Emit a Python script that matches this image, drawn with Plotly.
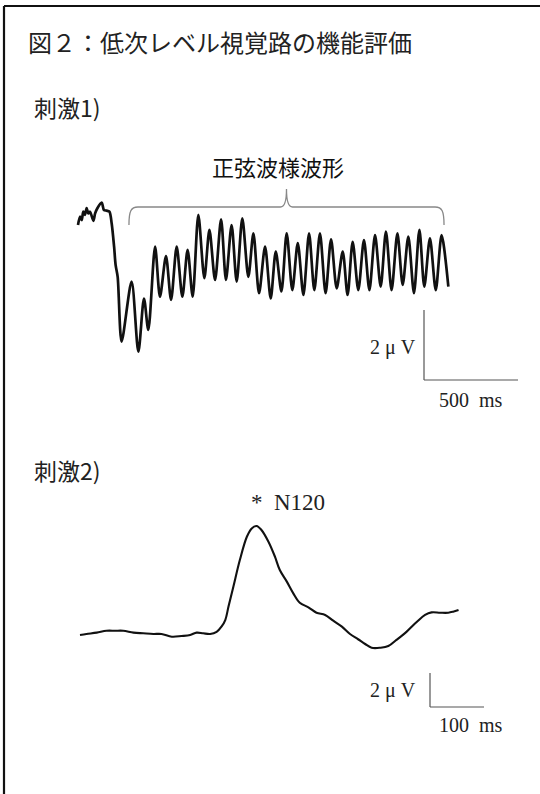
import plotly.graph_objects as go

W, H = 540, 794

# ---------------- data ----------------
# Stimulus 1: sinusoid-like response (time in ms, amplitude in µV)
s1_time = [0, 11, 20, 28, 37, 46, 55, 64, 82, 91, 103, 126, 138, 152, 167, 179, 192, 200, 211, 232,
           285, 321, 351, 374, 410, 436, 468, 495, 525, 555, 583, 610, 640, 672, 699, 729, 761, 787,
           817, 844, 874, 906, 933, 963, 995, 1025, 1052, 1082, 1110, 1140, 1169, 1199, 1229, 1257,
           1287, 1317, 1346, 1376, 1408, 1434, 1461, 1491, 1521, 1550, 1580, 1610, 1638, 1668, 1699,
           1727, 1757, 1787, 1816, 1842, 1872, 1903, 1934, 1970]
s1_amp = [1.00, 1.24, 1.14, 1.38, 1.29, 1.48, 1.33, 1.38, 1.12, 1.33, 1.48, 1.64, 1.43, 1.41, 1.38,
          1.05, 0.38, -0.14, -0.48, -2.33, -0.62, -2.62, -1.10, -2.00, 0.38, -1.05, 0.11, -1.14,
          0.38, -1.05, 0.29, -1.05, 1.29, -0.52, 0.86, -0.57, 1.16, -0.57, 1.00, -0.62, 1.19, -0.48,
          0.76, -0.95, 0.38, -1.10, 0.24, -0.90, 0.76, -0.86, 0.48, -1.00, 0.76, -0.86, 0.76, -0.95,
          0.59, -0.81, 0.24, -1.00, 0.52, -0.86, 0.57, -0.86, 0.71, -0.76, 0.81, -0.86, 0.76, -0.71,
          0.67, -0.95, 0.86, -0.76, 0.62, -0.86, 0.71, -0.76]

# Stimulus 2: transient response with N120 (time in ms, amplitude in µV)
s2_time = [0, 12, 31, 49, 65, 80, 99, 117, 136, 151, 170, 188, 204, 216, 228, 241, 253, 262, 269, 275,
           284, 296, 309, 318, 327, 336, 349, 361, 370, 383, 395, 407, 423, 438, 454, 469, 485, 500,
           515, 528, 540, 556, 571, 586, 605, 624, 639, 651, 667, 682, 691, 701]
s2_amp = [0.00, 0.06, 0.14, 0.25, 0.25, 0.25, 0.14, 0.10, 0.06, 0.06, -0.10, -0.06, 0.00, 0.14, 0.10,
          0.06, 0.18, 0.49, 0.88, 1.67, 2.84, 4.41, 5.78, 6.27, 6.41, 6.18, 5.49, 4.61, 3.82, 3.14,
          2.45, 1.90, 1.63, 1.31, 1.18, 0.84, 0.49, 0.06, -0.25, -0.53, -0.75, -0.75, -0.65, -0.29,
          0.20, 0.78, 1.18, 1.33, 1.31, 1.31, 1.37, 1.47]

# scale bars (ms, µV) and bracket span (ms)
scale1 = (500, 2)
scale2 = (100, 2)
brace_ms = [271, 1947]

# text
title_text = "図２：低次レベル視覚路の機能評価"
stim1_text = "刺激1)"
stim2_text = "刺激2)"
brace_text = "正弦波様波形"
peak_text = "*  N120"
uv_text = "2 μ V"

# ---------------- layout geometry (pixels) ----------------
P1_X0, P1_Y0, P1_PXMS, P1_PXUV = 78, 260, 94 / 500, 35
P2_X0, P2_Y0, P2_PXMS, P2_PXUV = 80, 635, 54 / 100, 17


def rng_x(x0, pxms):
    return [(0 - x0) / pxms, (W - x0) / pxms]


def rng_y(y0, pxuv):
    return [(y0 - H) / pxuv, y0 / pxuv]


def px(x):
    return x / W


def py(y):
    return 1 - y / H


fig = go.Figure()
fig.add_trace(go.Scatter(x=s1_time, y=s1_amp, mode="lines", xaxis="x", yaxis="y",
                         line=dict(color="#111111", width=2.7, shape="spline", smoothing=0.8),
                         hoverinfo="skip", showlegend=False))
fig.add_trace(go.Scatter(x=s2_time, y=s2_amp, mode="lines", xaxis="x2", yaxis="y2",
                         line=dict(color="#111111", width=2.1, shape="spline", smoothing=1.0),
                         hoverinfo="skip", showlegend=False))

ax = dict(visible=False, showgrid=False, zeroline=False, fixedrange=True)
fig.update_layout(
    width=W, height=H, margin=dict(l=0, r=0, t=0, b=0),
    paper_bgcolor="white", plot_bgcolor="rgba(0,0,0,0)",
    xaxis=dict(ax, domain=[0, 1], range=rng_x(P1_X0, P1_PXMS)),
    yaxis=dict(ax, domain=[0, 1], range=rng_y(P1_Y0, P1_PXUV)),
    xaxis2=dict(ax, domain=[0, 1], range=rng_x(P2_X0, P2_PXMS), anchor="y2"),
    yaxis2=dict(ax, domain=[0, 1], range=rng_y(P2_Y0, P2_PXUV), anchor="x2", overlaying="y"),
)

shapes = []
# frame (top and left edges)
shapes.append(dict(type="line", xref="paper", yref="paper", x0=px(4), x1=px(W + 5), y0=py(6), y1=py(6),
                   line=dict(color="#111111", width=2.2)))
shapes.append(dict(type="line", xref="paper", yref="paper", x0=px(4), x1=px(4), y0=py(6), y1=py(H + 5),
                   line=dict(color="#111111", width=2.2)))

# scale bars, anchored at data coordinates
sb1_t = (424 - P1_X0) / P1_PXMS
sb1_a = (P1_Y0 - 380) / P1_PXUV
shapes.append(dict(type="line", xref="x", yref="y", x0=sb1_t, x1=sb1_t, y0=sb1_a, y1=sb1_a + scale1[1],
                   line=dict(color="#555555", width=1.2)))
shapes.append(dict(type="line", xref="x", yref="y", x0=sb1_t, x1=sb1_t + scale1[0], y0=sb1_a, y1=sb1_a,
                   line=dict(color="#555555", width=1.2)))
sb2_t = (430 - P2_X0) / P2_PXMS
sb2_a = (P2_Y0 - 707) / P2_PXUV
shapes.append(dict(type="line", xref="x2", yref="y2", x0=sb2_t, x1=sb2_t, y0=sb2_a, y1=sb2_a + scale2[1],
                   line=dict(color="#555555", width=1.2)))
shapes.append(dict(type="line", xref="x2", yref="y2", x0=sb2_t, x1=sb2_t + scale2[0], y0=sb2_a, y1=sb2_a,
                   line=dict(color="#555555", width=1.2)))

# curly bracket over the sinusoidal part
bl = P1_X0 + brace_ms[0] * P1_PXMS
br = P1_X0 + brace_ms[1] * P1_PXMS
bc = (bl + br) / 2
ytop, ybot, ytick = 207, 225, 189
pts = [
    ("M", [(bl, ybot)]),
    ("C", [(bl, 211), (bl + 2, ytop), (bl + 9, ytop)]),
    ("L", [(bc - 6, ytop)]),
    ("Q", [(bc, ytop), (bc, ytick)]),
    ("Q", [(bc, ytop), (bc + 6, ytop)]),
    ("L", [(br - 9, ytop)]),
    ("C", [(br - 2, ytop), (br, 211), (br, ybot)]),
]
path = " ".join(cmd + " " + " ".join(f"{px(x):.5f},{py(y):.5f}" for x, y in p) for cmd, p in pts)
shapes.append(dict(type="path", xref="paper", yref="paper", path=path,
                   line=dict(color="#888888", width=1.3)))
fig.update_layout(shapes=shapes)

jp = "Noto Sans CJK JP"
serif = "Liberation Serif"
ann = []
ann.append(dict(text=title_text, x=px(26), y=py(42), xanchor="left", yanchor="middle",
                font=dict(family=jp, size=24, color="#222222")))
ann.append(dict(text=stim1_text, x=px(32), y=py(107), xanchor="left", yanchor="middle",
                font=dict(family=jp, size=23, color="#222222")))
ann.append(dict(text=stim2_text, x=px(32), y=py(470), xanchor="left", yanchor="middle",
                font=dict(family=jp, size=23, color="#222222")))
ann.append(dict(text=brace_text, x=px(278), y=py(166), xanchor="center", yanchor="middle",
                font=dict(family=jp, size=22, color="#111111")))
ann.append(dict(text=peak_text, x=px(288), y=py(502), xanchor="center", yanchor="middle",
                font=dict(family=serif, size=23, color="#222222")))
ann.append(dict(text=uv_text, x=px(418), y=py(347), xanchor="right", yanchor="middle",
                font=dict(family=serif, size=20, color="#222222")))
ann.append(dict(text=f"{scale1[0]}  ms", x=px(437), y=py(400), xanchor="left", yanchor="middle",
                font=dict(family=serif, size=20, color="#222222")))
ann.append(dict(text=uv_text, x=px(418), y=py(690), xanchor="right", yanchor="middle",
                font=dict(family=serif, size=20, color="#222222")))
ann.append(dict(text=f"{scale2[0]}  ms", x=px(437), y=py(725), xanchor="left", yanchor="middle",
                font=dict(family=serif, size=20, color="#222222")))
for a in ann:
    a.update(xref="paper", yref="paper", showarrow=False)
fig.update_layout(annotations=ann)

fig.write_html("out.html", config={"displayModeBar": False},
               post_script="document.body.style.margin='0';document.body.style.padding='0';")
